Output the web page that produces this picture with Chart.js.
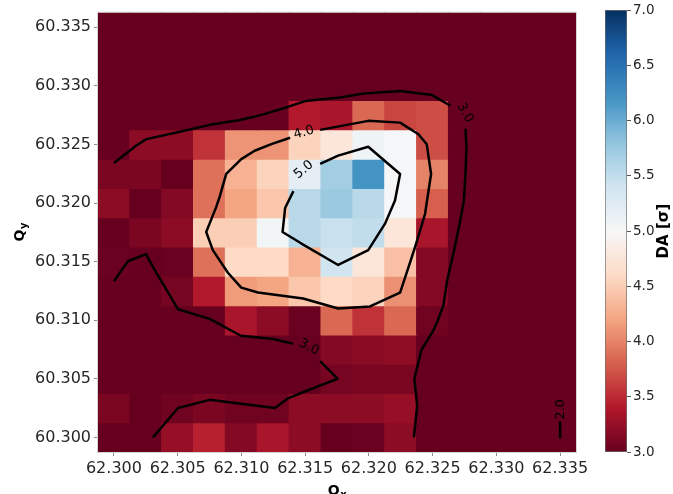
<!DOCTYPE html>
<html>
<head>
<meta charset="utf-8">
<title>DA map</title>
<script src="https://cdn.jsdelivr.net/npm/chart.js@4.4.1/dist/chart.umd.min.js"></script>
<style>
  html, body { margin: 0; padding: 0; background: #ffffff; }
  #wrap { position: relative; width: 673px; height: 494px; overflow: hidden; }
  canvas { position: absolute; top: 0; display: block; }
  #main { left: 0; }
  #cbar { left: 600px; }
</style>
</head>
<body>
<div id="wrap">
  <canvas id="main" width="600" height="494"></canvas>
  <canvas id="cbar" width="73" height="494"></canvas>
</div>
<script>
// Scan grid: cell centres along Qx and Qy
const qx = [62.3000, 62.3025, 62.3050, 62.3075, 62.3100, 62.3125, 62.3150, 62.3175,
            62.3200, 62.3225, 62.3250, 62.3275, 62.3300, 62.3325, 62.3350];
const qy = [60.3000, 60.3025, 60.3050, 60.3075, 60.3100, 60.3125, 60.3150, 60.3175,
            60.3200, 60.3225, 60.3250, 60.3275, 60.3300, 60.3325, 60.3350];

// DA in sigma, one row per Qy value (first row is Qy = 60.300)
const da = [
  [3.00, 2.90, 3.25, 3.45, 3.15, 3.35, 3.20, 3.00, 3.02, 3.20, 2.80, 2.40, 2.30, 2.20, 1.90],
  [3.10, 3.00, 3.05, 3.10, 3.05, 3.05, 3.20, 3.20, 3.20, 3.25, 2.90, 2.50, 2.40, 2.30, 2.20],
  [2.70, 2.70, 2.70, 2.70, 2.70, 2.70, 2.90, 3.08, 3.10, 3.10, 2.90, 2.60, 2.50, 2.40, 2.30],
  [2.60, 2.60, 2.70, 2.80, 2.80, 2.80, 3.00, 3.15, 3.18, 3.22, 2.95, 2.70, 2.60, 2.50, 2.40],
  [2.70, 2.70, 3.00, 2.95, 3.35, 3.20, 3.02, 3.85, 3.55, 3.85, 3.05, 2.80, 2.60, 2.50, 2.50],
  [2.80, 2.90, 3.08, 3.40, 4.15, 4.20, 4.45, 4.60, 4.55, 4.08, 3.15, 2.85, 2.60, 2.50, 2.50],
  [3.02, 2.95, 3.02, 3.90, 4.60, 4.60, 4.30, 5.40, 4.75, 4.40, 3.15, 2.90, 2.60, 2.50, 2.50],
  [3.00, 3.10, 3.20, 4.50, 4.50, 5.05, 5.55, 5.45, 5.50, 4.75, 3.35, 2.95, 2.60, 2.50, 2.50],
  [3.20, 3.00, 3.15, 3.90, 4.20, 4.45, 5.55, 5.75, 5.55, 5.02, 3.80, 3.00, 2.60, 2.50, 2.50],
  [3.10, 3.10, 3.00, 3.90, 4.30, 4.55, 5.20, 5.70, 6.20, 5.02, 4.00, 3.00, 2.60, 2.50, 2.50],
  [2.90, 3.20, 3.20, 3.55, 4.10, 4.10, 4.55, 4.75, 5.10, 5.02, 3.70, 3.00, 2.60, 2.50, 2.50],
  [2.80, 2.80, 2.80, 2.80, 2.85, 2.90, 3.40, 3.35, 3.85, 3.65, 3.70, 2.95, 2.60, 2.50, 2.50],
  [2.60, 2.60, 2.60, 2.60, 2.70, 2.70, 2.80, 2.85, 2.90, 2.90, 2.85, 2.70, 2.50, 2.50, 2.50],
  [2.50, 2.50, 2.50, 2.50, 2.50, 2.50, 2.50, 2.55, 2.55, 2.55, 2.50, 2.50, 2.50, 2.50, 2.50],
  [2.40, 2.40, 2.40, 2.40, 2.40, 2.40, 2.40, 2.45, 2.45, 2.45, 2.40, 2.40, 2.40, 2.40, 2.40]
];

// Axis ticks
const xTicks = [62.300, 62.305, 62.310, 62.315, 62.320, 62.325, 62.330, 62.335];
const yTicks = [60.300, 60.305, 60.310, 60.315, 60.320, 60.325, 60.330, 60.335];
const cbTicks = [3.0, 3.5, 4.0, 4.5, 5.0, 5.5, 6.0, 6.5, 7.0];

// Contour paths [Qx, Qy]; null marks the gap left for an inline label
const contour20 = [[62.33500, 60.30129], [62.33500, 60.30000]];
const contour30Outer = [
  [62.30000, 60.32341], [62.30176, 60.32491], [62.30255, 60.32545], [62.30491, 60.32601],
  [62.30753, 60.32667], [62.30989, 60.32709], [62.31159, 60.32752], [62.31369, 60.32822],
  [62.31500, 60.32870], [62.31775, 60.32901], [62.31958, 60.32935], [62.32247, 60.32955],
  [62.32496, 60.32921], [62.32640, 60.32830],
  null,
  [62.32758, 60.32635], [62.32766, 60.32474], [62.32758, 60.32256], [62.32745, 60.32016],
  [62.32706, 60.31790], [62.32668, 60.31592], [62.32614, 60.31338], [62.32585, 60.31126],
  [62.32536, 60.30984], [62.32507, 60.30914], [62.32412, 60.30744], [62.32357, 60.30502],
  [62.32379, 60.30269], [62.32353, 60.30000]
];
const contour30Tongue = [
  [62.30000, 60.31333], [62.30110, 60.31503], [62.30251, 60.31564], [62.30336, 60.31397],
  [62.30385, 60.31310], [62.30503, 60.31093], [62.30751, 60.31011], [62.30996, 60.30867],
  [62.31250, 60.30840], [62.31405, 60.30799],
  null,
  [62.31618, 60.30651], [62.31755, 60.30500], [62.31492, 60.30389], [62.31366, 60.30333],
  [62.31264, 60.30250], [62.30996, 60.30286], [62.30751, 60.30320], [62.30503, 60.30250],
  [62.30306, 60.30000]
];
const contour40 = [
  [62.31618, 60.32624], [62.31995, 60.32701], [62.32245, 60.32686], [62.32389, 60.32587],
  [62.32454, 60.32502], [62.32488, 60.32248], [62.32441, 60.31908], [62.32363, 60.31626],
  [62.32297, 60.31405], [62.32245, 60.31236], [62.32009, 60.31117], [62.31759, 60.31100],
  [62.31484, 60.31185], [62.31366, 60.31202], [62.31130, 60.31236], [62.30999, 60.31278],
  [62.30894, 60.31405], [62.30776, 60.31598], [62.30724, 60.31753], [62.30802, 60.31965],
  [62.30831, 60.32059], [62.30881, 60.32248], [62.30999, 60.32375], [62.31104, 60.32446],
  [62.31235, 60.32502], [62.31382, 60.32557]
];
const contour50 = [
  [62.31618, 60.32333], [62.31759, 60.32404], [62.31995, 60.32480], [62.32245, 60.32248],
  [62.32205, 60.32022], [62.32127, 60.31824], [62.31995, 60.31598], [62.31759, 60.31471],
  [62.31471, 60.31654], [62.31323, 60.31753], [62.31343, 60.31957], [62.31408, 60.32101]
];

// Inline contour labels
const labelText  = ['2.0', '3.0', '3.0', '4.0', '5.0'];
const labelQx    = [62.33505, 62.32754, 62.31530, 62.31490, 62.31490];
const labelQy    = [60.30238, 60.32771, 60.30769, 60.32601, 60.32283];
const labelAngle = [-90, 60, 28, -15, -40];

// Colour scale limits
const daMin = cbTicks[0];
const daMax = cbTicks[cbTicks.length - 1];

// RdBu diverging palette, low = red, high = blue
const RDBU = [
  [103, 0, 31], [178, 24, 43], [214, 96, 77], [244, 165, 130], [253, 219, 199],
  [247, 247, 247], [209, 229, 240], [146, 197, 222], [67, 147, 195], [33, 102, 172], [5, 48, 97]
];
function rdbu(t) {
  t = Math.max(0, Math.min(1, t));
  const s = t * (RDBU.length - 1);
  const k = Math.min(RDBU.length - 2, Math.floor(s));
  const f = s - k;
  const a = RDBU[k], b = RDBU[k + 1];
  const c = a.map((v, n) => Math.round(v + (b[n] - v) * f));
  return `rgb(${c[0]},${c[1]},${c[2]})`;
}
const colourFor = v => rdbu((v - daMin) / (daMax - daMin));

const FONT = "'DejaVu Sans', 'Liberation Sans', sans-serif";
Chart.defaults.font.family = FONT;

// Heatmap cells as floating bars spanning one grid step in Qy
const halfX = (qx[1] - qx[0]) / 2;
const halfY = (qy[1] - qy[0]) / 2;
const cells = [];
const cellColours = [];
qy.forEach((y, j) => {
  qx.forEach((x, i) => {
    cells.push({ x: x, y: [y - halfY, y + halfY] });
    cellColours.push(colourFor(da[j][i]));
  });
});

// Split a contour path at its label gaps
function segments(path) {
  const out = [];
  let cur = [];
  path.forEach(p => {
    if (p === null) { if (cur.length) out.push(cur); cur = []; }
    else cur.push({ x: p[0], y: p[1] });
  });
  if (cur.length) out.push(cur);
  return out;
}
const contourSets = [];
[contour20, contour30Outer, contour30Tongue, contour40, contour50].forEach(path => {
  segments(path).forEach(seg => {
    contourSets.push({
      type: 'line',
      data: seg,
      borderColor: '#000000',
      borderWidth: 2.5,
      borderJoinStyle: 'round',
      borderCapStyle: 'butt',
      pointRadius: 0,
      tension: 0,
      fill: false,
      order: 0
    });
  });
});

function subscriptTitle(ctx, cx, cy, rot, main, sub) {
  ctx.save();
  ctx.translate(cx, cy);
  ctx.rotate(rot);
  ctx.fillStyle = '#000000';
  ctx.textAlign = 'left';
  ctx.textBaseline = 'alphabetic';
  ctx.font = `bold 14px ${FONT}`;
  const w1 = ctx.measureText(main).width;
  ctx.font = `bold 10px ${FONT}`;
  const w2 = ctx.measureText(sub).width;
  const x0 = -(w1 + w2) / 2;
  ctx.font = `bold 14px ${FONT}`;
  ctx.fillText(main, x0, 5);
  ctx.font = `bold 10px ${FONT}`;
  ctx.fillText(sub, x0 + w1 + 0.5, 8);
  ctx.restore();
}

const mapDecor = {
  id: 'mapDecor',
  afterDatasetsDraw(chart) {
    const { ctx, scales: { x, y } } = chart;
    ctx.save();
    ctx.font = `13px ${FONT}`;
    ctx.fillStyle = '#000000';
    ctx.textAlign = 'center';
    ctx.textBaseline = 'middle';
    labelText.forEach((t, k) => {
      ctx.save();
      ctx.translate(x.getPixelForValue(labelQx[k]), y.getPixelForValue(labelQy[k]));
      ctx.rotate(labelAngle[k] * Math.PI / 180);
      ctx.fillText(t, 0, 0);
      ctx.restore();
    });
    ctx.restore();
  },
  afterDraw(chart) {
    const { ctx, chartArea: a } = chart;
    ctx.save();
    ctx.strokeStyle = '#d4d4d4';
    ctx.lineWidth = 1;
    ctx.strokeRect(a.left - 0.5, a.top - 0.5, a.width + 1, a.height + 1);
    ctx.restore();
    subscriptTitle(ctx, (a.left + a.right) / 2, 490, 0, 'Q', 'x');
    subscriptTitle(ctx, 19, (a.top + a.bottom) / 2, -Math.PI / 2, 'Q', 'y');
  }
};

const tickFont = { family: FONT, size: 16 };

new Chart(document.getElementById('main'), {
  type: 'bar',
  data: {
    datasets: [
      {
        type: 'bar',
        data: cells,
        backgroundColor: cellColours,
        borderWidth: 0,
        inflateAmount: 0.6,
        barPercentage: 1,
        categoryPercentage: 1,
        order: 1
      },
      ...contourSets
    ]
  },
  options: {
    responsive: false,
    animation: false,
    events: [],
    devicePixelRatio: 1,
    layout: { padding: { top: 10, right: 24, left: 0, bottom: 0 } },
    plugins: { legend: { display: false }, tooltip: { enabled: false } },
    scales: {
      x: {
        type: 'linear',
        min: qx[0] - halfX,
        max: qx[qx.length - 1] + halfX,
        offset: false,
        grid: { display: true, offset: false, drawOnChartArea: false, drawTicks: true, tickLength: 4, color: '#8c8c8c' },
        border: { display: false },
        ticks: { font: tickFont, color: '#262626', padding: 3, maxRotation: 0, autoSkip: false,
                 callback: v => Number(v).toFixed(3) },
        afterBuildTicks: s => { s.ticks = xTicks.map(v => ({ value: v })); },
        afterFit: s => { s.height = 42; }
      },
      y: {
        type: 'linear',
        min: qy[0] - halfY,
        max: qy[qy.length - 1] + halfY,
        beginAtZero: false,
        grid: { display: true, drawOnChartArea: false, drawTicks: true, tickLength: 4, color: '#8c8c8c' },
        border: { display: false },
        ticks: { font: tickFont, color: '#262626', padding: 3, autoSkip: false,
                 callback: v => Number(v).toFixed(3) },
        afterBuildTicks: s => { s.ticks = yTicks.map(v => ({ value: v })); },
        afterFit: s => { s.width = 98; }
      }
    }
  },
  plugins: [mapDecor]
});

// Colour bar
const cbarLabel = {
  id: 'cbarLabel',
  afterDraw(chart) {
    const { ctx, chartArea: a } = chart;
    ctx.save();
    ctx.translate(64, (a.top + a.bottom) / 2);
    ctx.rotate(-Math.PI / 2);
    ctx.font = `bold 15px ${FONT}`;
    ctx.fillStyle = '#000000';
    ctx.textAlign = 'center';
    ctx.textBaseline = 'middle';
    ctx.fillText('DA [σ]', 0, 0);
    ctx.restore();
  }
};

new Chart(document.getElementById('cbar'), {
  type: 'bar',
  data: {
    labels: ['DA'],
    datasets: [{
      data: [[daMin, daMax]],
      backgroundColor: (c) => {
        const chart = c.chart;
        if (!chart.chartArea) return colourFor(daMin);
        const ys = chart.scales.y;
        const g = chart.ctx.createLinearGradient(0, ys.getPixelForValue(daMin), 0, ys.getPixelForValue(daMax));
        RDBU.forEach((col, k) => g.addColorStop(k / (RDBU.length - 1), `rgb(${col[0]},${col[1]},${col[2]})`));
        return g;
      },
      borderColor: '#6e6e6e',
      borderWidth: 1,
      borderSkipped: false,
      barPercentage: 1,
      categoryPercentage: 1
    }]
  },
  options: {
    responsive: false,
    animation: false,
    events: [],
    devicePixelRatio: 1,
    layout: { padding: { top: 10, bottom: 42, left: 5, right: 0 } },
    plugins: { legend: { display: false }, tooltip: { enabled: false } },
    scales: {
      x: { display: false },
      y: {
        position: 'right',
        min: daMin,
        max: daMax,
        beginAtZero: false,
        grid: { display: true, drawOnChartArea: false, drawTicks: true, tickLength: 4, color: '#555555' },
        border: { display: false },
        ticks: { font: { family: FONT, size: 13.5 }, color: '#262626', padding: 2,
                 callback: v => Number(v).toFixed(1) },
        afterBuildTicks: s => { s.ticks = cbTicks.map(v => ({ value: v })); },
        afterFit: s => { s.width = 46; }
      }
    }
  },
  plugins: [cbarLabel]
});
</script>
</body>
</html>
